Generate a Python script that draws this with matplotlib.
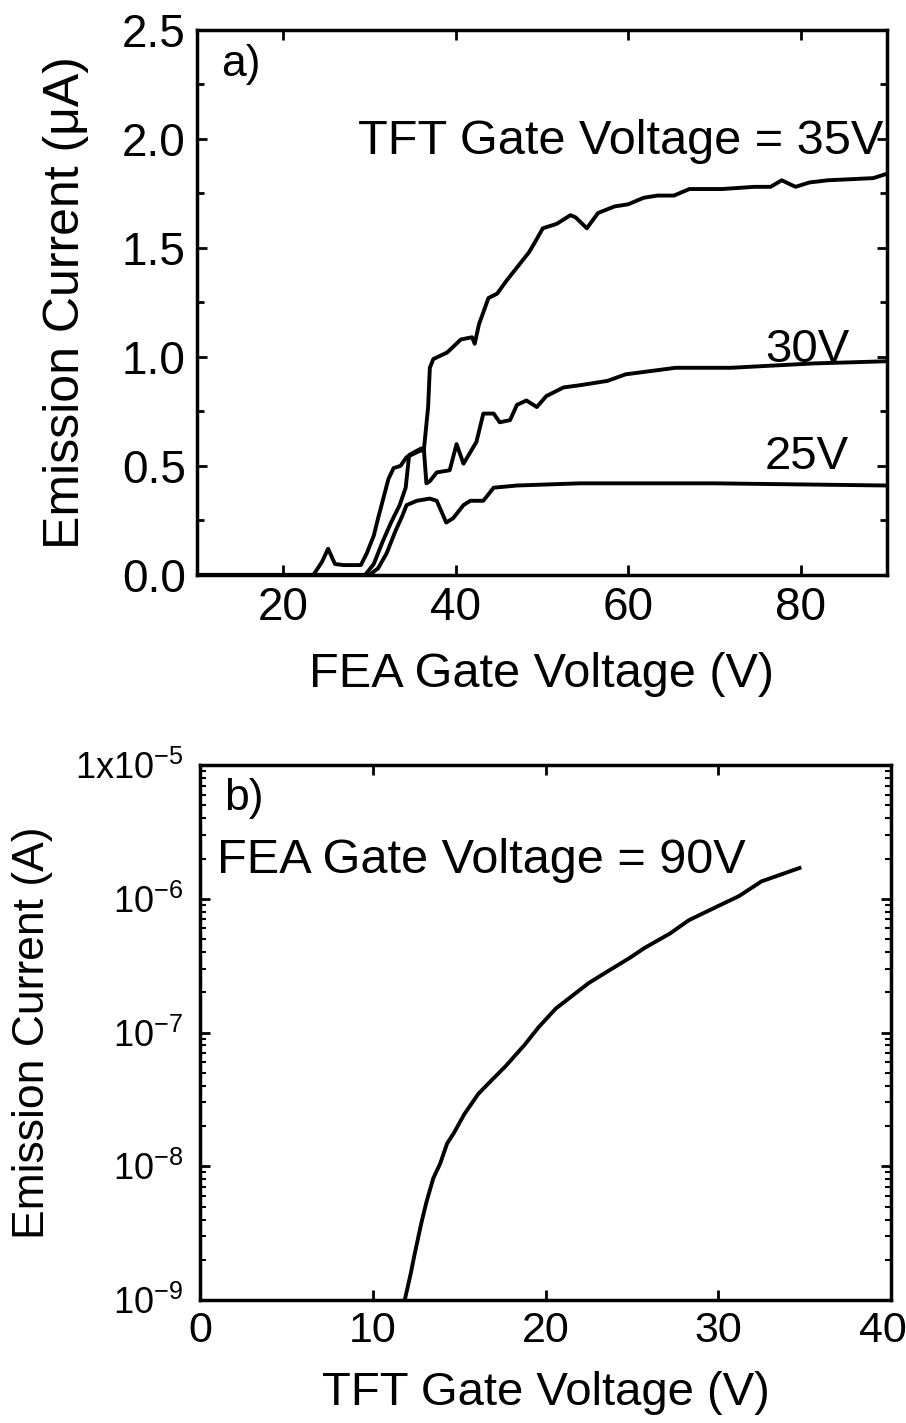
import numpy as np
import matplotlib
matplotlib.use("Agg")
import matplotlib.pyplot as plt
import matplotlib.transforms as mtransforms
from matplotlib.ticker import MultipleLocator, FixedLocator

# a) emission current vs FEA gate voltage, three TFT gate voltages
fea_v_35 = [10, 12, 14, 18, 22, 23.5, 24.5, 25.2, 26, 27, 29, 29.7, 30.5, 31, 31.6, 32.2, 32.8,
            33.6, 34.3, 35.9, 36.3, 36.8, 37.0, 37.4, 39.0, 40.6, 41.9, 42.2, 42.7, 43.8, 44.8,
            45.9, 47.5, 48.5, 49.1, 50.1, 51.7, 53.3, 53.9, 55.2, 56.5, 58.4, 60.0, 61.8, 63.4,
            65.3, 67.1, 70.9, 74.6, 76.5, 77.8, 79.4, 81.0, 83.1, 88.4, 90]
cur_35 = [0, -0.01, -0.02, -0.02, -0.01, 0, 0.06, 0.12, 0.05, 0.045, 0.045, 0.1, 0.18, 0.26,
          0.35, 0.44, 0.49, 0.5, 0.54, 0.57, 0.57, 0.77, 0.95, 0.99, 1.02, 1.08, 1.09, 1.06,
          1.15, 1.27, 1.29, 1.35, 1.43, 1.48, 1.52, 1.59, 1.61, 1.65, 1.64, 1.59, 1.66, 1.69,
          1.70, 1.73, 1.74, 1.74, 1.77, 1.77, 1.78, 1.78, 1.81, 1.78, 1.80, 1.81, 1.82, 1.84]

fea_v_30 = [10, 29.5, 30.5, 31.5, 32.5, 33.5, 34.2, 34.6, 36.0, 36.3, 36.6, 37.0, 37.8, 39.3,
            40.1, 40.9, 42.4, 43.2, 44.4, 45.1, 46.3, 47.1, 48.2, 49.4, 50.5, 52.5, 54.4, 57.6,
            59.7, 65.5, 71.9, 81.5, 90]
cur_30 = [0, 0, 0.05, 0.15, 0.24, 0.32, 0.40, 0.55, 0.58, 0.58, 0.42, 0.43, 0.47, 0.48, 0.60,
          0.51, 0.61, 0.74, 0.74, 0.70, 0.71, 0.78, 0.80, 0.77, 0.82, 0.86, 0.87, 0.89, 0.92,
          0.95, 0.95, 0.97, 0.98]

fea_v_25 = [10, 30, 31, 32, 33, 33.8, 34.3, 35.5, 37.0, 37.8, 38.9, 39.7, 40.9, 41.7, 43.2,
            44.4, 47.1, 54.4, 70, 90]
cur_25 = [0, 0, 0.03, 0.10, 0.20, 0.27, 0.32, 0.34, 0.35, 0.34, 0.24, 0.26, 0.32, 0.34, 0.34,
          0.40, 0.41, 0.42, 0.42, 0.41]

# b) emission current vs TFT gate voltage at FEA gate = 90 V
tft_v = [11.85, 12.2, 12.4, 12.8, 13.1, 13.5, 13.9, 14.3, 14.7, 15.3, 16.1, 16.7, 17.7, 18.8,
         19.6, 20.6, 21.4, 22.5, 23.5, 24.9, 25.7, 27.2, 28.3, 29.9, 31.2, 32.5, 33.6, 34.7]
log_cur_b = [-9.0, -8.80, -8.67, -8.43, -8.27, -8.09, -7.98, -7.83, -7.75, -7.61, -7.46, -7.38,
             -7.25, -7.09, -6.96, -6.82, -6.74, -6.63, -6.55, -6.44, -6.37, -6.26, -6.16, -6.06,
             -5.98, -5.87, -5.82, -5.77]

ytick_vals_b = [1e-9, 1e-8, 1e-7, 1e-6, 1e-5]
ytick_labels_b = [r'$\mathregular{10^{-9}}$', r'$\mathregular{10^{-8}}$', r'$\mathregular{10^{-7}}$',
                  r'$\mathregular{10^{-6}}$', r'$\mathregular{1x10^{-5}}$']

plt.rcParams['font.family'] = ['Liberation Sans', 'DejaVu Sans']
plt.rcParams['mathtext.fontset'] = 'custom'
plt.rcParams['mathtext.rm'] = 'Liberation Sans'

fig = plt.figure(figsize=(9.06, 14.23), dpi=100)

lw = 2.8
# ---- panel a ----
ax1 = fig.add_axes([0.2174, 0.596, 0.7616, 0.383])
ax1.plot(fea_v_35, cur_35, color='k', lw=lw)
ax1.plot(fea_v_30, cur_30, color='k', lw=lw)
ax1.plot(fea_v_25, cur_25, color='k', lw=lw)
ax1.set_xlim(10, 90)
ax1.set_ylim(0, 2.5)
ax1.xaxis.set_major_locator(FixedLocator([20, 40, 60, 80]))
ax1.yaxis.set_major_locator(MultipleLocator(0.5))
ax1.yaxis.set_minor_locator(MultipleLocator(0.25))
ax1.yaxis.set_major_formatter(plt.FuncFormatter(lambda v, p: '%.1f' % v))
ax1.tick_params(direction='in', top=True, right=True, length=7, width=2, labelsize=33, pad=8)
ax1.tick_params(which='minor', direction='in', right=True, length=5, width=2)
ax1.set_xlabel('FEA Gate Voltage (V)', fontsize=35, labelpad=16)
ax1.set_ylabel('Emission Current (\u03bcA)', fontsize=36, labelpad=24)
ax1.text(0.035, 0.975, 'a)', transform=ax1.transAxes, fontsize=32, va='top')
ax1.text(0.995, 0.795, 'TFT Gate Voltage = 35V', transform=ax1.transAxes, fontsize=35,
         ha='right', va='center')
ax1.text(0.945, 0.413, '30V', transform=ax1.transAxes, fontsize=34, ha='right', va='center')
ax1.text(0.945, 0.217, '25V', transform=ax1.transAxes, fontsize=34, ha='right', va='center')
for s in ax1.spines.values():
    s.set_linewidth(2.5)

# ---- panel b ----
ax2 = fig.add_axes([0.2208, 0.0864, 0.7627, 0.376])
ax2.plot(tft_v, 10.0 ** np.array(log_cur_b), color='k', lw=lw)
ax2.set_yscale('log')
ax2.set_xlim(0, 40)
ax2.set_ylim(1e-9, 1e-5)
ax2.set_xticks([0, 10, 20, 30, 40])
ax2.set_yticks(ytick_vals_b)
ax2.set_yticklabels(ytick_labels_b)
ax2.tick_params(direction='in', top=True, right=True, length=7, width=2, labelsize=26, pad=12)
ax2.tick_params(axis='x', labelsize=31, pad=8)
ax2.tick_params(which='minor', direction='in', left=True, right=True, length=4, width=1.5)
ax2.set_xlabel('TFT Gate Voltage (V)', fontsize=34, labelpad=14)
ax2.set_ylabel('Emission Current (A)', fontsize=32, labelpad=16)
ax2.text(0.035, 0.975, 'b)', transform=ax2.transAxes, fontsize=32, va='top')
ax2.text(0.025, 0.822, 'FEA Gate Voltage = 90V', transform=ax2.transAxes, fontsize=35,
         ha='left', va='center')
for s in ax2.spines.values():
    s.set_linewidth(2.5)

# last x label sits at the figure edge; nudge it inward a little
shift = mtransforms.ScaledTranslation(-8 / 100, 0, fig.dpi_scale_trans)
last = ax2.get_xticklabels()[-1]
last.set_transform(last.get_transform() + shift)

fig.savefig('out.png', dpi=100)
